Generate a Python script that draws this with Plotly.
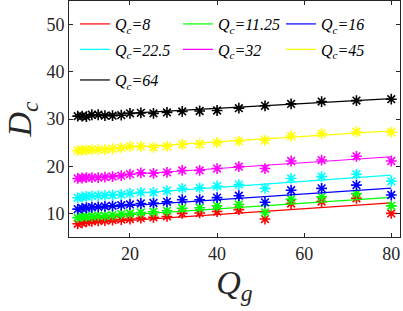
import plotly.graph_objects as go

# Data
qg = [8, 9, 10, 11.25, 12.7, 14.25, 16, 18, 20, 22.5, 25.4, 28.5, 32, 36, 40, 45, 51, 57, 64, 72, 80]
qc_labels = ["8", "11.25", "16", "22.5", "32", "45", "64"]
colors = ["#ff0000", "#00ff00", "#0000ff", "#00ffff", "#ff00ff", "#ffff00", "#000000"]

dc_8 = [7.8, 8.0, 8.2, 8.3, 8.4, 8.45, 8.6, 8.7, 8.8, 9.0, 9.15, 9.35, 10.0, 10.1, 10.4, 10.8, 8.8, 12.1, 12.5, 13.2, 10.0]
dc_11 = [9.1, 9.3, 9.35, 9.4, 9.5, 9.5, 9.65, 9.85, 10.0, 10.2, 10.35, 10.55, 11.1, 11.2, 11.6, 11.9, 10.2, 13.0, 13.5, 14.2, 11.6]
dc_16 = [10.9, 11.1, 11.2, 11.3, 11.4, 11.5, 11.6, 11.75, 11.9, 12.1, 12.2, 12.45, 12.9, 12.9, 13.35, 13.75, 12.35, 14.9, 15.3, 16.0, 13.9]
dc_22 = [13.3, 13.5, 13.6, 13.7, 13.75, 13.8, 13.9, 14.0, 14.25, 14.45, 14.45, 14.8, 15.3, 15.4, 15.8, 16.1, 15.3, 17.4, 17.8, 18.3, 16.8]
dc_32 = [17.4, 17.5, 17.6, 17.6, 17.6, 17.7, 17.8, 18.0, 18.3, 18.6, 18.5, 18.7, 19.1, 19.1, 19.5, 19.9, 19.5, 21.1, 21.3, 22.1, 21.1]
dc_45 = [23.3, 23.4, 23.4, 23.5, 23.5, 23.5, 23.7, 23.9, 24.2, 24.2, 24.0, 24.2, 24.6, 24.7, 25.0, 25.3, 25.5, 26.4, 26.9, 27.3, 27.2]
dc_64 = [30.6, 30.6, 30.5, 30.9, 30.9, 30.7, 30.7, 30.8, 31.2, 31.3, 31.2, 31.4, 31.6, 31.7, 31.8, 32.3, 32.8, 33.2, 33.7, 33.9, 34.2]
series = [dc_8, dc_11, dc_16, dc_22, dc_32, dc_45, dc_64]

# fitted line endpoints (at Qg = 8 and Qg = 80)
fit_x = [8, 80]
fit_start = [7.8, 9.0, 10.9, 13.4, 17.5, 23.3, 30.6]
fit_end = [12.25, 13.4, 15.35, 18.1, 22.0, 27.5, 34.3]

x_ticks = [20, 40, 60, 80]
y_ticks = [10, 20, 30, 40, 50]

FONT = "Liberation Serif"
AX = "#262626"

legend_ids = ["legend", "legend", "legend", "legend2", "legend2", "legend2", "legend3"]

fig = go.Figure()
for lab, col, ys, y0, y1, lg in zip(qc_labels, colors, series, fit_start, fit_end, legend_ids):
    fig.add_trace(go.Scatter(
        x=qg, y=ys, mode="markers", showlegend=False,
        marker=dict(symbol="asterisk-open", size=9, color=col,
                    line=dict(color=col, width=1.6)),
    ))
    fig.add_trace(go.Scatter(
        x=fit_x, y=[y0, y1], mode="lines", legend=lg,
        name="<i>Q<sub>c</sub>=" + lab + "</i>",
        line=dict(color=col, width=1.2),
    ))

axis_common = dict(
    showline=True, mirror="ticks", linecolor=AX, linewidth=1,
    ticks="inside", ticklen=4, tickcolor=AX, tickwidth=1,
    showgrid=False, zeroline=False, automargin=False,
    tickfont=dict(family=FONT, size=18, color=AX),
)

leg_common = dict(
    orientation="h", x=0.018, xanchor="left", yanchor="middle",
    entrywidth=58, entrywidthmode="pixels",
    font=dict(family=FONT, size=16, color="#000000"),
    bgcolor="rgba(0,0,0,0)", borderwidth=0,
)

fig.update_layout(
    template="none",
    width=403, height=311,
    margin=dict(l=69, r=3, t=1, b=74),
    plot_bgcolor="white", paper_bgcolor="white",
    xaxis=dict(range=[6, 82], tickvals=x_ticks, **axis_common,
               title=dict(text="<i>Q<sub>g</sub></i>", font=dict(family=FONT, size=34, color=AX), standoff=2)),
    yaxis=dict(range=[5, 55], tickvals=y_ticks, **axis_common,
               title=dict(text="<i>D<sub>c</sub></i>", font=dict(family=FONT, size=34, color=AX), standoff=4)),
    legend=dict(y=0.9025, **leg_common),
    legend2=dict(y=0.795, **leg_common),
    legend3=dict(y=0.665, **leg_common),
)

fig.write_html("out.html", config={"displayModeBar": False},
               post_script="document.body.style.margin='0';document.body.style.overflow='hidden';")
